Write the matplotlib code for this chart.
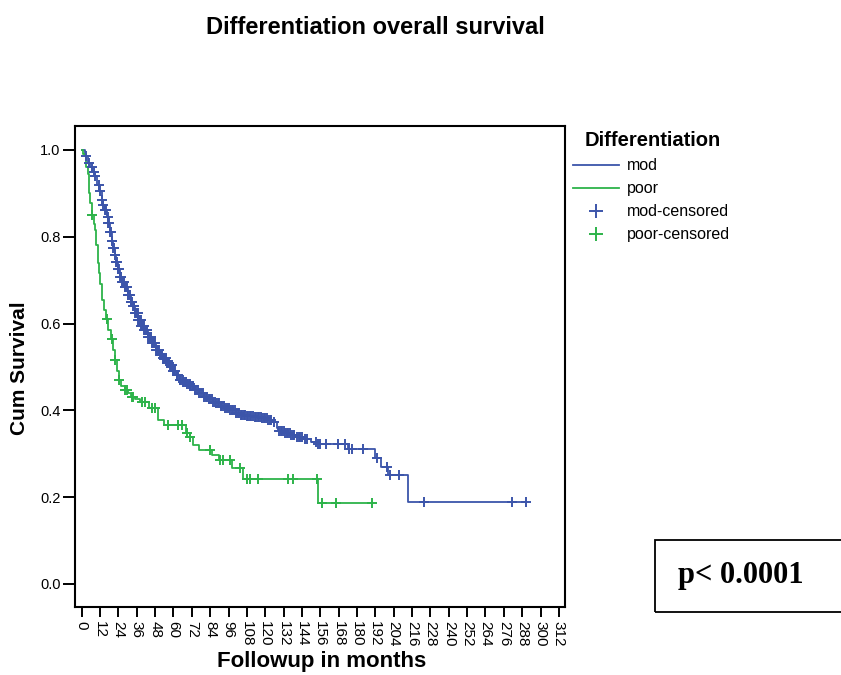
import numpy as np
import matplotlib
matplotlib.use("Agg")
import matplotlib.pyplot as plt
from matplotlib.lines import Line2D
from matplotlib.patches import Rectangle

plt.rcParams['font.family'] = ['Liberation Sans', 'DejaVu Sans']

# ---- data ----
mod_times = [0, 2, 4, 5.5, 7, 8.5, 10, 11.5, 13, 14, 15, 16.5, 17.5, 18.5, 19.5, 20.5,
             21.5, 22.5, 23.5, 25, 26.5, 28, 30, 32, 33.5, 35, 37, 39, 41, 43.5, 46,
             48.5, 51, 53, 55.5, 58, 60, 62, 64, 66.5, 69, 71, 74, 77, 80, 83, 86, 88,
             91, 94, 97, 101, 104, 108, 113, 118, 122, 125, 127.5, 128.5, 133, 137,
             141, 145, 150, 154, 174, 192, 196, 200, 213.5, 290.4]
mod_surv = [1.0, 0.985, 0.97, 0.96, 0.95, 0.94, 0.92, 0.905, 0.885, 0.872, 0.862, 0.845,
            0.832, 0.81, 0.79, 0.775, 0.758, 0.742, 0.725, 0.708, 0.695, 0.685, 0.665,
            0.65, 0.64, 0.625, 0.608, 0.595, 0.585, 0.57, 0.555, 0.54, 0.528, 0.52,
            0.51, 0.505, 0.49, 0.482, 0.47, 0.465, 0.46, 0.455, 0.447, 0.44, 0.43,
            0.425, 0.42, 0.416, 0.41, 0.405, 0.4, 0.393, 0.39, 0.387, 0.385, 0.383,
            0.378, 0.374, 0.36, 0.352, 0.347, 0.343, 0.338, 0.335, 0.328, 0.322, 0.31,
            0.29, 0.27, 0.251, 0.19, 0.19]
mod_censored = [3, 5, 6.5, 8, 9, 11, 12, 13, 14, 15.5, 16, 17, 18, 19, 20, 21, 22, 22.5,
                23, 24, 25, 26, 27, 28, 29, 30, 31, 32, 33, 34, 35, 36, 37, 38, 39, 40,
                41, 42, 43, 44, 45, 46, 47, 48, 49, 50, 51, 52, 53, 54, 55, 56, 57, 58,
                59, 60, 61, 62, 63, 64, 65, 66, 67, 68, 69, 70, 71, 72, 73, 74, 75, 76,
                77, 78, 79, 80, 81, 82, 83, 84, 85, 86, 87, 88, 89, 90, 91, 92, 93, 94,
                95, 96, 97, 98, 99, 100, 101, 102, 103, 104, 105, 106, 107, 108, 109,
                110, 111, 112, 113, 114, 115, 116, 117, 118, 119, 120, 121, 122, 123,
                124, 126, 129, 130, 131, 132, 133, 134, 135, 136, 137, 138, 139, 141,
                142, 143, 144, 146, 147, 153.5, 154.5, 156, 160, 167.5, 172, 175, 177,
                184, 192.8, 199.3, 201.5, 207.6, 223.7, 281.4, 290.4,
                # additional closely spaced censored cases in the dense region
                17.5, 18.5, 19.5, 20.5, 21.5, 23.5, 24.5, 25.5, 26.5, 27.5, 28.5,
                29.5, 30.5, 31.5, 32.5, 33.5, 34.5, 35.5, 36.5, 37.5, 38.5, 39.5,
                40.5, 41.5, 42.5, 43.5, 44.5, 45.5, 46.5, 47.5, 48.5, 50.5, 52.5,
                54.5, 56.5, 58.5, 60.5, 62.5, 64.5, 66.5, 68.5, 70.5, 72.5]

poor_times = [0, 1, 3, 4.3, 5, 5.5, 6.5, 8, 8.7, 9.5, 10.5, 11.3, 12, 13, 14.5, 16, 17.5,
              19, 20.5, 21.5, 23, 24.3, 26, 28, 30, 32, 35, 38, 44, 50, 54, 68, 70.5,
              73, 77, 85, 90, 98, 105.6, 154.7, 189.5]
poor_surv = [1.0, 0.99, 0.96, 0.945, 0.9, 0.878, 0.85, 0.83, 0.815, 0.78, 0.74, 0.716,
             0.69, 0.655, 0.63, 0.61, 0.585, 0.565, 0.54, 0.515, 0.49, 0.47, 0.455,
             0.447, 0.44, 0.43, 0.425, 0.42, 0.405, 0.378, 0.366, 0.347, 0.339, 0.32,
             0.309, 0.297, 0.286, 0.267, 0.243, 0.187, 0.187]
poor_censored = [6.9, 16.3, 19.6, 21.8, 24.3, 28.3, 29.4, 32.7, 33.7, 39.2, 41.4, 45.7,
                 48, 56.6, 63.1, 65.4, 68.6, 70.8, 84, 90.4, 92.5, 97, 103.5, 107.8,
                 110, 115.4, 135, 138.3, 153.6, 156.8, 166, 189.5]

x_ticks = list(range(0, 313, 12))
y_ticks = [0.0, 0.2, 0.4, 0.6, 0.8, 1.0]

MOD_C = '#3C55AA'
POOR_C = '#2DB34A'

W, H = 841, 675
fig = plt.figure(figsize=(W / 100, H / 100), dpi=100)
ax = fig.add_axes([75 / W, 1 - 607 / H, 490 / W, 481 / H])


def step_val(times, surv, t):
    i = np.searchsorted(np.asarray(times), np.asarray(t), side='right') - 1
    return np.asarray(surv)[i]


for times, surv, cens, c in [(mod_times, mod_surv, mod_censored, MOD_C),
                             (poor_times, poor_surv, poor_censored, POOR_C)]:
    ax.plot(times, surv, drawstyle='steps-post', color=c, lw=1.3, zorder=3)
    ax.plot(cens, step_val(times, surv, cens), ls='none', marker='+', ms=7,
            mew=1.4, color=c, zorder=4)

ax.set_xlim(-4.4, 316)
ax.set_ylim(-0.053, 1.055)
ax.set_xticks(x_ticks)
ax.set_xticklabels([str(v) for v in x_ticks], rotation=-90, fontsize=11)
ax.set_yticks(y_ticks)
ax.set_yticklabels([f"{v:.1f}" for v in y_ticks], fontsize=10.5)
ax.tick_params(axis='x', length=7, width=1.4, pad=3)
ax.tick_params(axis='y', length=8.5, width=1.4, pad=2)
for s in ax.spines.values():
    s.set_linewidth(1.5)

fig.text(375 / W, 1 - 27 / H, 'Differentiation overall survival', ha='center',
         va='center', fontsize=17, fontweight='bold')
fig.text(322 / W, 1 - 662 / H, 'Followup in months', ha='center', va='center',
         fontsize=16, fontweight='bold')
fig.text(20 / W, 1 - 368 / H, 'Cum Survival', ha='center', va='center',
         rotation=90, fontsize=15, fontweight='bold')

handles = [Line2D([], [], color=MOD_C, lw=1.3),
           Line2D([], [], color=POOR_C, lw=1.3),
           Line2D([], [], color=MOD_C, ls='none', marker='+', ms=10, mew=1.4),
           Line2D([], [], color=POOR_C, ls='none', marker='+', ms=10, mew=1.4)]
labels = ['mod', 'poor', 'mod-censored', 'poor-censored']
fig.text(585 / W, 1 - 140 / H, 'Differentiation', ha='left', va='center',
         fontsize=14.5, fontweight='bold')
leg = fig.legend(handles, labels, loc='upper left',
                 bbox_to_anchor=(570 / W, 1 - 155 / H), frameon=False,
                 fontsize=11.5, handlelength=2.85, labelspacing=0.5,
                 handletextpad=0.5, borderaxespad=0, borderpad=0.2)

fig.patches.append(Rectangle((655 / W, 1 - 612 / H), 200 / W, 72 / H,
                             transform=fig.transFigure, fill=False,
                             edgecolor='black', lw=1.3, clip_on=False))
fig.text(678 / W, 1 - 576 / H, 'p< 0.0001', ha='left', va='center',
         fontsize=22, fontweight='bold', family='Liberation Serif')

fig.savefig('out.png', dpi=100)
